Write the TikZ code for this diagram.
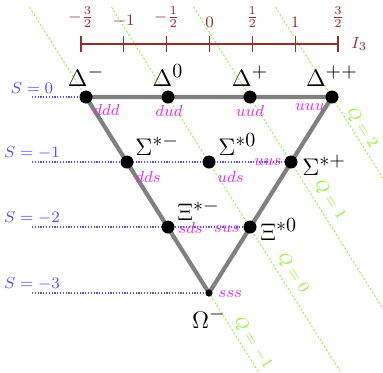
\documentclass[tikz,border=0pt]{standalone}
\usetikzlibrary{calc}
\DeclareMathSizes{12}{12}{10}{7}
\definecolor{qgreen}{RGB}{150,238,70}
\definecolor{sblue}{RGB}{80,80,255}
\definecolor{qmag}{RGB}{230,45,230}
\definecolor{axred}{RGB}{150,45,45}
\definecolor{trigray}{RGB}{128,128,128}
\begin{document}
\begin{tikzpicture}[x=0.5pt,y=-0.5pt,
  dot/.style={circle,fill=black,inner sep=0pt,minimum size=6.5pt},
  smalldot/.style={circle,fill=black,inner sep=0pt,minimum size=3.6pt},
  part/.style={font=\fontsize{12}{14}\selectfont,inner sep=0pt},
  quark/.style={font=\fontsize{8}{9}\selectfont,text=qmag,inner sep=0pt},
  slabel/.style={font=\fontsize{8}{9}\selectfont,text=sblue,inner sep=0pt,anchor=base},
  qlabel/.style={font=\fontsize{8}{9}\selectfont,text=qgreen,inner sep=0pt,rotate=-57.8},
  qline/.style={qgreen,line width=0.45pt,dash pattern=on 1.1pt off 0.9pt},
  sline/.style={sblue,line width=0.6pt,dash pattern=on 0.6pt off 0.8pt},
  tri/.style={trigray,line width=2.1pt,line join=round},
  axis/.style={axred,line width=0.6pt},
  ticklabel/.style={font=\fontsize{8}{9}\selectfont,text=axred,inner sep=0pt,anchor=south}]
\useasboundingbox (0,0) rectangle (383,372);
% particle positions
\coordinate (dm) at (86,97);
\coordinate (dz) at (168,97);
\coordinate (dp) at (250,97);
\coordinate (dpp) at (332,97);
\coordinate (sm) at (127,162);
\coordinate (sz) at (209,162);
\coordinate (sp) at (291,162);
\coordinate (xm) at (168,227);
\coordinate (xz) at (250,227);
\coordinate (om) at (209,293);
% Q lines
\begin{scope}
\clip (0,0) rectangle (383,372);
\foreach \p in {dm,dz,dp,dpp}{
  \draw[qline] ($(\p)+(-56.5,-90)$) -- ($(\p)+(177.6,283)$);
}
\end{scope}
\node[qlabel] (q2) at ($(dpp)+(30,31)$) {$Q=2$};
\node[qlabel] (q1) at ($(dp)+(80,103)$) {$Q=1$};
\node[qlabel] (q0) at ($(dz)+(125,176)$) {$Q=0$};
\node[qlabel] (qm1) at ($(dm)+(167,246)$) {$Q=-1$};
% S lines and labels
\coordinate (s0) at (32,97);
\coordinate (s1) at (32,162);
\coordinate (s2) at (32,227);
\coordinate (s3) at (32,293);
\node[slabel] (ls0) at ($(s0)+(0,-4)$) {$S=0$};
\node[slabel] (ls1) at ($(s1)+(0,-5)$) {$S=-1$};
\node[slabel] (ls2) at ($(s2)+(0,-5)$) {$S=-2$};
\node[slabel] (ls3) at ($(s3)+(0,-5)$) {$S=-3$};
\draw[sline] (s0) -- (dm);
\draw[sline] (s1) -- (sp);
\draw[sline] (s2) -- (xz);
\draw[sline] (s3) -- (om);
% triangle
\draw[tri] (dm) -- (dpp) -- (om) -- cycle;
% dots
\foreach \p in {dm,dz,dp,dpp,sm,sz,sp,xm,xz}{
  \node[dot] (n\p) at (\p) {};
}
\node[smalldot] (nom) at (om) {};
% particle labels
\node[part,anchor=base] (ldm) at ($(dm)+(0,-11)$) {$\Delta^{-}$};
\node[part,anchor=base] (ldz) at ($(dz)+(0,-11)$) {$\Delta^{0}$};
\node[part,anchor=base] (ldp) at ($(dp)+(0,-11)$) {$\Delta^{+}$};
\node[part,anchor=base] (ldpp) at ($(dpp)+(0,-11)$) {$\Delta^{++}$};
\node[part,anchor=base west] (lsm) at ($(sm)+(8,-7)$) {$\Sigma^{*-}$};
\node[part,anchor=base west] (lsz) at ($(sz)+(9,-7)$) {$\Sigma^{*0}$};
\node[part,anchor=base west] (lsp) at ($(sp)+(11,13)$) {$\Sigma^{*+}$};
\node[part,anchor=base west] (lxm) at ($(xm)+(9,-7)$) {$\Xi^{*-}$};
\node[part,anchor=base west] (lxz) at ($(xz)+(10,13)$) {$\Xi^{*0}$};
\node[part,anchor=base] (lom) at ($(om)+(0,35)$) {$\Omega^{-}$};
% quark content
\node[quark,anchor=base west] (qdm) at ($(dm)+(7,18)$) {$ddd$};
\node[quark,anchor=base] (qdz) at ($(dz)+(1,19)$) {$dud$};
\node[quark,anchor=base] (qdp) at ($(dp)+(0,19)$) {$uud$};
\node[quark,anchor=base east] (qdpp) at ($(dpp)+(-7,13)$) {$uuu$};
\node[quark,anchor=base west] (qsm) at ($(sm)+(8,20)$) {$dds$};
\node[quark,anchor=base west] (qsz) at ($(sz)+(8,20)$) {$uds$};
\node[quark,anchor=base east] (qsp) at ($(sp)+(-9,3)$) {$uus$};
\node[quark,anchor=base west] (qxm) at ($(xm)+(10,6)$) {$sds$};
\node[quark,anchor=base east] (qxz) at ($(xz)+(-10,5)$) {$sus$};
\node[quark,anchor=base west] (qom) at ($(om)+(9,4)$) {$sss$};
% I3 axis
\foreach \i/\x/\t in {1/81/{-\frac{3}{2}},2/123.8/{-1},3/166.7/{-\frac{1}{2}},4/209.5/{0},5/252.3/{\frac{1}{2}},6/295.2/{1},7/338/{\frac{3}{2}}}{
  \coordinate (ax\i) at (\x,44);
  \draw[axis] ($(ax\i)+(0,-8)$) -- ($(ax\i)+(0,8)$);
  \node[ticklabel] (tl\i) at ($(ax\i)+(0,-16)$) {$\t$};
}
\draw[axis] (ax1) -- (ax7);
\node[font=\fontsize{8}{9}\selectfont,text=axred,inner sep=0pt,anchor=base west] (i3) at ($(ax7)+(13,4)$) {$I_3$};
\end{tikzpicture}
\end{document}
